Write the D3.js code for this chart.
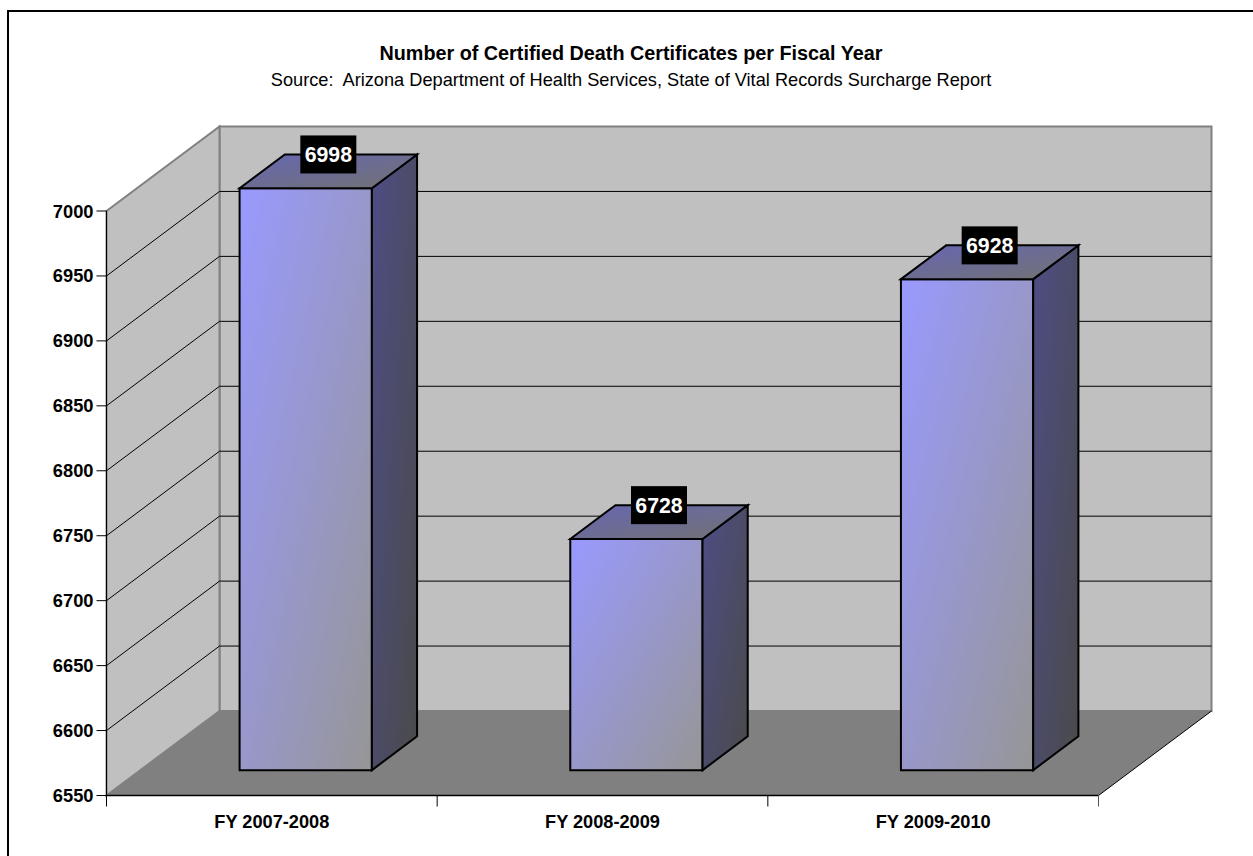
<!DOCTYPE html>
<html><head><meta charset="utf-8"><script src="https://cdn.jsdelivr.net/npm/d3@7"></script>
<style>html,body{margin:0;padding:0;background:#fff;overflow:hidden}svg{display:block}text{font-family:"Liberation Sans",Arial,sans-serif}</style>
</head><body><script>
const categories = ["FY 2007-2008","FY 2008-2009","FY 2009-2010"];
const values = [6998,6728,6928];
const yTicks = [6550,6600,6650,6700,6750,6800,6850,6900,6950,7000];
const titleText = "Number of Certified Death Certificates per Fiscal Year";
const subtitleText = "Source:  Arizona Department of Health Services, State of Vital Records Surcharge Report";

const W=1253,H=856;
const svg=d3.select("body").append("svg").attr("width",W).attr("height",H);
const y=d3.scaleLinear().domain([6550,7000]).range([795.5,211]);
const x=d3.scaleBand().domain(categories).range([106.5,1098.5]);
const DX=113,DY=-84.5;
const pt=(X,Y,f)=>[X+DX*f,Y+DY*f];
const line=d3.line();
const poly=a=>line(a)+"Z";

svg.append("rect").attr("x",8).attr("y",11).attr("width",W+20).attr("height",H+20).attr("fill","#fff").attr("stroke","#000").attr("stroke-width",2);

svg.append("text").attr("x",631).attr("y",60).attr("text-anchor","middle").attr("font-size",19.8).attr("font-weight","bold").text(titleText);
svg.append("text").attr("x",631).attr("y",86).attr("text-anchor","middle").attr("font-size",18.2).attr("xml:space","preserve").text(subtitleText);

const x0=x.range()[0],x1=x.range()[1],y0=y(6550),yT=y(7000);
svg.append("path").attr("d",poly([pt(x0,yT,1),pt(x1,yT,1),pt(x1,y0,1),pt(x0,y0,1)])).attr("fill","#c0c0c0").attr("stroke","#808080").attr("stroke-width",2);
svg.append("path").attr("d",poly([pt(x0,yT,0),pt(x0,yT,1),pt(x0,y0,1),pt(x0,y0,0)])).attr("fill","#c0c0c0").attr("stroke","#808080").attr("stroke-width",2);
svg.append("path").attr("d",poly([pt(x0,y0,0),pt(x0,y0,1),pt(x1,y0,1),pt(x1,y0,0)])).attr("fill","#808080");
const grid=svg.append("g").attr("fill","none").attr("stroke","#000").attr("stroke-width",1);
yTicks.slice(1,-1).forEach(t=>{
  grid.append("path").attr("d",line([pt(x0,y(t),0),pt(x0,y(t),1),pt(x1,y(t),1)]));
});
svg.append("path").attr("d",line([pt(x1,y0,0),pt(x1,y0,1)])).attr("stroke","#000").attr("stroke-width",1).attr("fill","none");

const defs=svg.append("defs");
function grad(id,c0,c1){
  const g=defs.append("linearGradient").attr("id",id).attr("x1",0).attr("y1",0).attr("x2",1).attr("y2",1);
  g.append("stop").attr("offset",0).attr("stop-color",c0);
  g.append("stop").attr("offset",1).attr("stop-color",c1);
  return `url(#${id})`;
}
const frontFill=grad("front","#9999ff","#969696");
const sideFill=grad("side","#4d4d85","#4a4a4a");
const topFill=grad("top","#6666b3","#727272");
const f0=0.3,f1=0.7,barFrac=0.4;
categories.forEach((c,i)=>{
  const bw=x.bandwidth()*barFrac;
  const L=x(c)+x.bandwidth()*(1-barFrac)/2, R=L+bw;
  const T=y(values[i]),B=y0;
  const g=svg.append("g").attr("stroke","#000").attr("stroke-width",2).attr("stroke-linejoin","miter");
  g.append("path").attr("d",poly([pt(L,T,f0),pt(R,T,f0),pt(R,B,f0),pt(L,B,f0)])).attr("fill",frontFill);
  g.append("path").attr("d",poly([pt(R,T,f0),pt(R,T,f1),pt(R,B,f1),pt(R,B,f0)])).attr("fill",sideFill);
  g.append("path").attr("d",poly([pt(L,T,f0),pt(L,T,f1),pt(R,T,f1),pt(R,T,f0)])).attr("fill",topFill);
  const lx=(L+R)/2+DX*(f0+f1)/2, ly=pt(L,T,f1)[1];
  const lab=svg.append("g");
  lab.append("rect").attr("x",lx-28).attr("y",ly-19).attr("width",56).attr("height",38).attr("fill","#000");
  lab.append("text").attr("x",lx).attr("y",ly+7.5).attr("text-anchor","middle").attr("font-size",21.3).attr("font-weight","bold").attr("fill","#fff").text(values[i]);
});

const ax=svg.append("g").attr("stroke","#000").attr("fill","none").attr("stroke-width",1);
ax.append("path").attr("d",line([[x0,yT],[x0,y0+11]]));
ax.append("path").attr("d",line([[x0,y0],[x1,y0]])).attr("stroke-width",1.6);
yTicks.forEach(t=>{
  ax.append("path").attr("d",line([[x0-10,y(t)],[x0,y(t)]]));
  svg.append("text").attr("x",x0-13).attr("y",y(t)+6.5).attr("text-anchor","end").attr("font-size",18.3).attr("font-weight","bold").text(t);
});
categories.forEach((c,i)=>{
  const e=x(c)+x.bandwidth();
  ax.append("path").attr("d",line([[e,y0],[e,y0+11]])).attr("stroke",i===2?"#555":"#000");
  svg.append("text").attr("x",x(c)+x.bandwidth()/2).attr("y",828).attr("text-anchor","middle").attr("font-size",18.2).attr("font-weight","bold").text(c);
});
</script></body></html>
